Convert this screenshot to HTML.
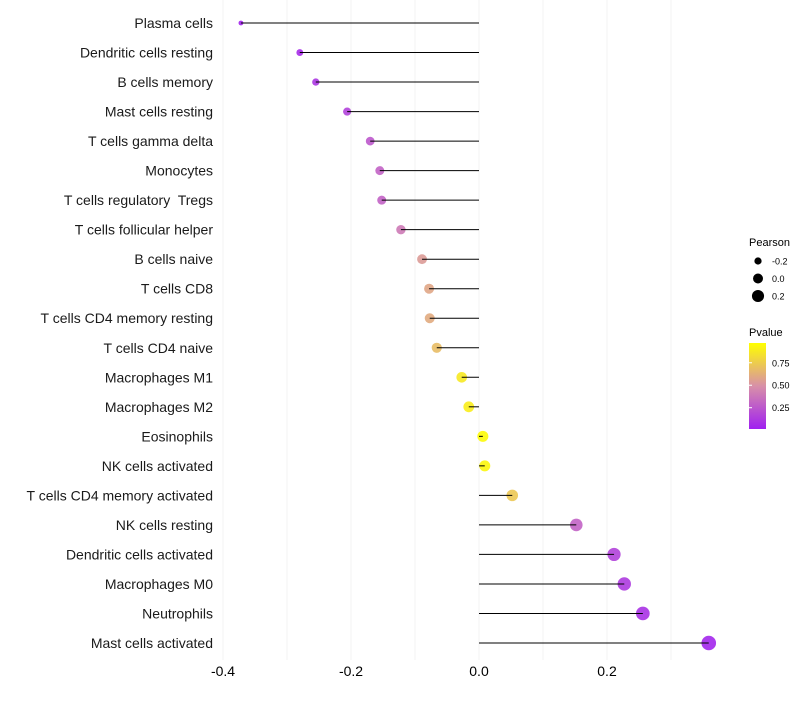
<!DOCTYPE html>
<html><head><meta charset="utf-8"><style>
body{margin:0;background:#fff;font-family:"Liberation Sans",sans-serif}
text{white-space:pre}
</style></head><body>
<svg id="c" width="800" height="700" xmlns="http://www.w3.org/2000/svg" font-family="Liberation Sans, sans-serif">
<defs><linearGradient id="pg" x1="0" y1="1" x2="0" y2="0">
<stop offset="0" stop-color="#a020f0"/><stop offset="0.5" stop-color="#d890a8"/><stop offset="1" stop-color="#ffff00"/></linearGradient></defs>
<g id="grid"></g><g id="marks"></g><g id="labels"></g>
<g>
<text x="749" y="246" font-size="11">Pearson</text>
<g id="sizeleg"></g>
<text x="749" y="336" font-size="11">Pvalue</text>
<rect x="749" y="343" width="17" height="86" fill="url(#pg)"/>
<g id="colleg"></g>
</g>
</svg>
<script>
const categories=["Plasma cells","Dendritic cells resting","B cells memory","Mast cells resting","T cells gamma delta","Monocytes","T cells regulatory  Tregs","T cells follicular helper","B cells naive","T cells CD8","T cells CD4 memory resting","T cells CD4 naive","Macrophages M1","Macrophages M2","Eosinophils","NK cells activated","T cells CD4 memory activated","NK cells resting","Dendritic cells activated","Macrophages M0","Neutrophils","Mast cells activated"];
const pearson=[-0.372,-0.280,-0.255,-0.206,-0.170,-0.155,-0.152,-0.122,-0.089,-0.078,-0.077,-0.066,-0.027,-0.016,0.006,0.009,0.052,0.152,0.211,0.227,0.256,0.359];
const pvalue=[0.02,0.05,0.1,0.15,0.25,0.3,0.3,0.4,0.55,0.6,0.62,0.7,0.9,0.92,0.98,0.96,0.75,0.3,0.15,0.12,0.08,0.03];
const xTicks=[-0.4,-0.2,0.0,0.2];
const xTickLabels=["-0.4","-0.2","0.0","0.2"];
const minorTicks=[-0.3,-0.1,0.1,0.3];
const sizeLegendVals=[-0.2,0.0,0.2];
const colorLegendVals=[0.25,0.5,0.75];
const NS="http://www.w3.org/2000/svg";
const X=v=>479+v*640;
const Y=i=>23+i*(620/21);
const R=p=>Math.sqrt(Math.max(2,30+65*p));
function col(p){const s=[[160,32,240],[216,144,168],[255,255,0]];let t=Math.min(1,Math.max(0,p));let a,b,f;if(t<0.5){a=s[0];b=s[1];f=t/0.5}else{a=s[1];b=s[2];f=(t-0.5)/0.5}return`rgb(${a.map((v,k)=>Math.round(v+(b[k]-v)*f)).join(",")})`}
function mk(tag,at,par){const e=document.createElementNS(NS,tag);for(const k in at)e.setAttribute(k,at[k]);document.getElementById(par).appendChild(e);return e}
minorTicks.concat(xTicks).forEach(v=>{const l=mk("line",{x1:X(v),x2:X(v),y1:0,y2:660,stroke:"#f3f3f3","stroke-width":1},"grid");

});
xTicks.forEach((v,i)=>{const t=mk("text",{x:X(v),y:676,"font-size":14,"text-anchor":"middle",fill:"#000"},"labels");t.textContent=xTickLabels[i];

});
categories.forEach((c,i)=>{const t=mk("text",{x:213,y:Y(i)+5,"font-size":14,"text-anchor":"end",fill:"#1a1a1a"},"labels");t.textContent=c;


const d=mk("circle",{cx:X(pearson[i]),cy:Y(i),r:R(pearson[i]),fill:col(pvalue[i]),"fill-opacity":0.9},"marks");


const l=mk("line",{x1:X(0),x2:X(pearson[i]),y1:Y(i),y2:Y(i),stroke:"#000","stroke-width":1},"marks");

});
sizeLegendVals.forEach((v,i)=>{const y=261+i*17.5;const d=mk("circle",{cx:758,cy:y,r:R(v)-0.5,fill:"#000"},"sizeleg");


const t=mk("text",{x:772,y:y+3.5,"font-size":9},"sizeleg");t.textContent=v.toFixed(1);

});
colorLegendVals.forEach(v=>{const y=429-(v-0.013)/(0.97-0.013)*86;const t=mk("text",{x:772,y:y+3.5,"font-size":9},"colleg");t.textContent=v.toFixed(2);


const k=mk("line",{x1:749,x2:752,y1:y,y2:y,stroke:"#fff"},"colleg");

});
</script>
</body></html>
